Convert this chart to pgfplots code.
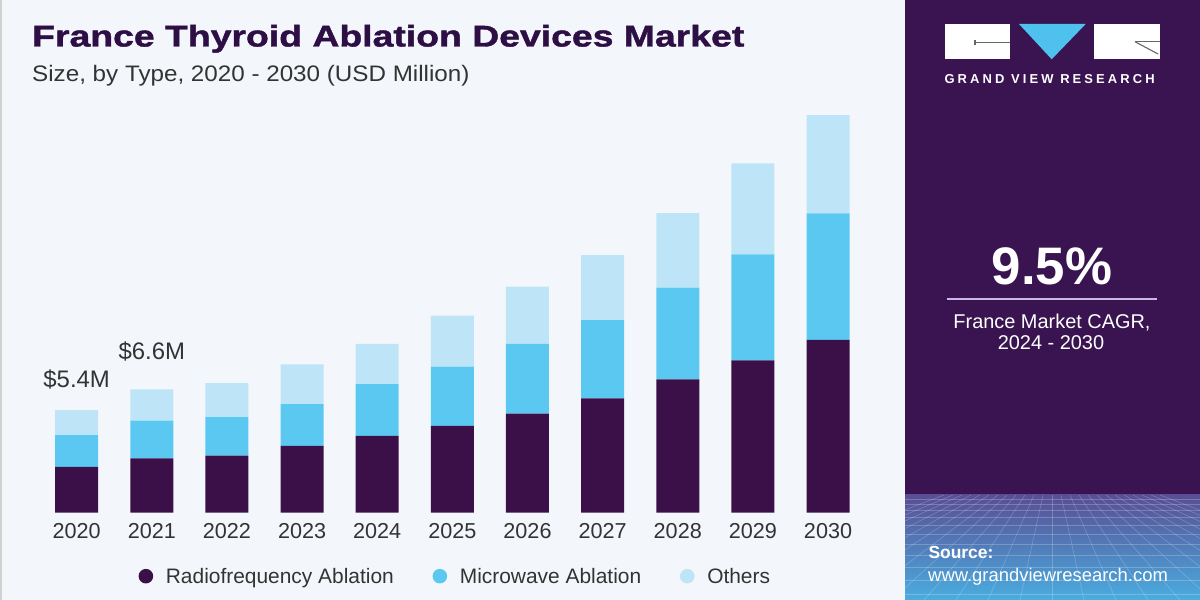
\documentclass[border=0pt]{standalone}
\usepackage{fontspec}
\setmainfont{Liberation Sans}
\newfontfamily\titlefont[FakeStretch=1.25,BoldFeatures={FakeBold=1.4}]{Liberation Sans}
\newfontfamily\subfont[FakeStretch=1.08]{Liberation Sans}
\newfontfamily\logofont[LetterSpace=24]{Liberation Sans}
\usepackage{pgfplots}
\usepackage{pgfplotstable}
\pgfplotsset{compat=1.18}

\definecolor{rf}{HTML}{3B0F48}
\definecolor{mw}{HTML}{5BC8F2}
\definecolor{ot}{HTML}{BDE5F7}
\definecolor{bgl}{HTML}{F3F7FB}
\definecolor{panel}{HTML}{3A1450}
\definecolor{titlec}{HTML}{2D0E45}
\definecolor{txt}{HTML}{333333}
\definecolor{logoblue}{HTML}{4FC1EF}
\definecolor{lav}{HTML}{C9B8E2}
\definecolor{gtop}{HTML}{594E94}
\definecolor{gbot}{HTML}{4AADE0}

\pgfplotstableread{
x rf mw ot
0 2.43 1.68 1.32
1 2.88 1.99 1.66
2 3.02 2.03 1.80
3 3.53 2.22 2.10
4 4.06 2.74 2.13
5 4.59 3.14 2.70
6 5.24 3.69 3.03
7 6.05 4.14 3.44
8 7.06 4.85 3.94
9 8.06 5.61 4.81
10 9.14 6.70 5.20
}\datatable

\begin{document}
\begin{tikzpicture}[x=1bp,y=1bp]
\useasboundingbox (0,0) rectangle (1200,600);
\fill[bgl] (0,0) rectangle (905,600);
\fill[black!18] (0,0) rectangle (2,600);
% right panel
\fill[panel] (905,105) rectangle (1200,600);
\begin{scope}
\clip (905,0) rectangle (1200,105);
\shade[top color=gtop, bottom color=gbot] (905,0) rectangle (1200,105);
\foreach \yy in {101,96,90,83,75,66,56,45,33,20,6}
  \draw[white, opacity=0.22, line width=0.6] (905,\yy) -- (1200,\yy);
\foreach \k in {-12,...,12}
  \draw[white, opacity=0.22, line width=0.6] (1052+\k*9,105) -- (1052+\k*32,0);
\end{scope}
% logo
\fill[white] (945,540.7) rectangle (1010,576);
\draw[black!60, line width=1.1] (975,557.7) -- (1010,557.7);
\draw[black!60, line width=1.1] (975,555.2) -- (975,560.2);
\fill[logoblue] (1019,576) -- (1085.7,576) -- (1051.7,540.7) -- cycle;
\fill[white] (1094.3,540.7) rectangle (1160,576);
\draw[black!60, line width=1.1] (1135,558.3) -- (1160,558.3);
\draw[black!60, line width=1.1] (1135,558.3) -- (1158,546);
\node[anchor=base west, inner sep=0pt, text=white, font=\logofont\bfseries\fontsize{13}{15}\selectfont] at (944.3,516.7) {GRAND VIEW RESEARCH};
% CAGR
\node[anchor=base, inner sep=0pt, text=white, font=\bfseries\fontsize{53}{60}\selectfont] at (1052,315) {9.5\%};
\draw[lav, line width=1.6] (946.7,301) -- (1156.7,301);
\node[anchor=base, inner sep=0pt, text=white, font=\fontsize{20}{24}\selectfont] at (1052,271.7) {France Market CAGR,};
\node[anchor=base, inner sep=0pt, text=white, font=\fontsize{20}{24}\selectfont] at (1051,250) {2024 - 2030};
% source
\node[anchor=base west, inner sep=0pt, text=white, font=\bfseries\fontsize{17.5}{20}\selectfont] at (928.3,41) {Source:};
\node[anchor=base west, inner sep=0pt, text=white, font=\fontsize{18.5}{21}\selectfont] at (928,18.3) {www.grandviewresearch.com};
% titles
\node[anchor=base west, inner sep=0pt, text=titlec, font=\titlefont\bfseries\fontsize{30}{34}\selectfont] at (32,553.5) {France Thyroid Ablation Devices Market};
\node[anchor=base west, inner sep=0pt, text=txt, font=\subfont\fontsize{22.5}{26}\selectfont] at (32,518.3) {Size, by Type, 2020 - 2030 (USD Million)};

\begin{axis}[
  at={(31.6bp,87.3bp)}, anchor=south west,
  scale only axis, width=841.5bp, height=453.6bp,
  xmin=-0.6, xmax=10.6, ymin=0, ymax=24,
  ybar stacked, bar width=43bp,
  hide y axis,
  axis x line=bottom, x axis line style={draw=none},
  xtick={0,...,10},
  xticklabels={2020,2021,2022,2023,2024,2025,2026,2027,2028,2029,2030},
  xtick style={draw=none}, major tick length=0pt,
  xticklabel style={font=\fontsize{21.7}{25}\selectfont, text=txt, anchor=base, yshift=-25.6bp},
  legend columns=3,
  legend image code/.code={\fill[#1] (0bp,0bp) circle (7.3bp);},
  legend style={at={(0.1269,-0.140)}, anchor=west, draw=none, fill=none,
    inner sep=0pt, nodes={inner sep=0pt}, font=\fontsize{21}{25}\selectfont, text=txt,
    /tikz/every odd column/.append style={column sep=12.7bp},
    /tikz/every even column/.append style={column sep=38.7bp}},
  clip=false,
]
\addplot[fill=rf, draw=none] table[x=x, y=rf] {\datatable};
\addplot[fill=mw, draw=none] table[x=x, y=mw] {\datatable};
\addplot[fill=ot, draw=none] table[x=x, y=ot] {\datatable};
\legend{Radiofrequency Ablation, Microwave Ablation, Others}
\node[anchor=base, inner sep=0pt, text=txt, font=\fontsize{24}{28}\selectfont] at (axis cs:0,6.635) {\$5.4M};
\node[anchor=base, inner sep=0pt, text=txt, font=\fontsize{24}{28}\selectfont] at (axis cs:1,8.08) {\$6.6M};
\end{axis}
\end{tikzpicture}
\end{document}
